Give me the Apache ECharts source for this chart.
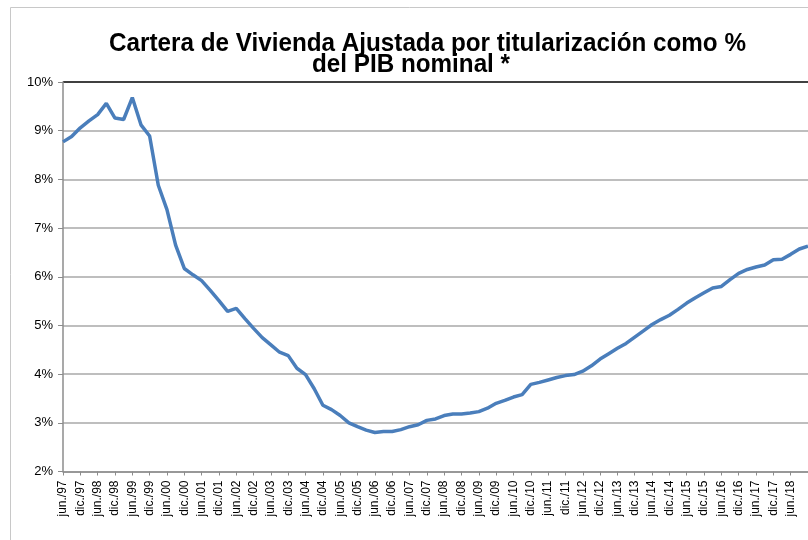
<!DOCTYPE html>
<html>
<head>
<meta charset="utf-8">
<script src="https://cdn.jsdelivr.net/npm/echarts@6/dist/echarts.min.js"></script>
<style>
  html, body { margin: 0; padding: 0; background: #ffffff; }
  #chart { width: 808px; height: 540px; }
</style>
</head>
<body>
<div id="chart"></div>
<script>
// Quarterly series, jun./97 to dic./18
const months = ['mar.', 'jun.', 'sep.', 'dic.'];
const firstYear = 1997;
const firstQuarter = 1; // jun.

// Housing loan portfolio (adjusted for securitization) as % of nominal GDP
const carteraPIB = [
  8.77, 8.88, 9.06, 9.20, 9.33, 9.56, 9.26, 9.23, 9.68, 9.12,
  8.89, 7.88, 7.38, 6.65, 6.17, 6.04, 5.92, 5.72, 5.51, 5.29,
  5.35, 5.14, 4.94, 4.75, 4.60, 4.45, 4.38, 4.12, 3.99, 3.70,
  3.36, 3.27, 3.15, 3.00, 2.92, 2.85, 2.80, 2.82, 2.82, 2.86,
  2.92, 2.96, 3.05, 3.08, 3.15, 3.18, 3.18, 3.20, 3.23, 3.30,
  3.40, 3.46, 3.53, 3.58, 3.79, 3.83, 3.88, 3.93, 3.97, 3.99,
  4.06, 4.17, 4.31, 4.42, 4.53, 4.63, 4.76, 4.89, 5.02, 5.12,
  5.21, 5.33, 5.46, 5.57, 5.67, 5.77, 5.80, 5.94, 6.07, 6.15,
  6.20, 6.24, 6.35, 6.36, 6.46, 6.57, 6.63
];

// Category labels such as "jun./97", "sep./97", "dic./97", ...
const quarterLabels = carteraPIB.map((_, i) => {
  const q = firstQuarter + i;
  const year = firstYear + Math.floor(q / 4);
  return months[q % 4] + '/' + String(year % 100).padStart(2, '0');
});

const yTicks = { min: 2, max: 10, step: 1 };

const titleLines = ['Cartera de Vivienda Ajustada por titularización como %', 'del PIB nominal *'];

const lastIndex = quarterLabels.length - 1;
const showEverySemester = (i) => i % 2 === 0 && i < lastIndex;

const titleFont = 'bold 25px "Liberation Sans", Arial, sans-serif';

const chart = echarts.init(document.getElementById('chart'), null, { renderer: 'canvas' });

chart.setOption({
  animation: false,
  backgroundColor: '#ffffff',
  textStyle: { fontFamily: 'Liberation Sans, Arial, sans-serif' },
  graphic: [
    {
      type: 'rect',
      left: 8, top: 5,
      shape: { width: 900, height: 600 },
      style: { fill: 'none', stroke: '#c8c8c8', lineWidth: 1 },
      silent: true
    },
    {
      type: 'text',
      x: 427.5, y: 32,
      scaleX: 0.97,
      style: { text: titleLines[0], font: titleFont, fill: '#000000', align: 'center', verticalAlign: 'top', lineHeight: 25 },
      silent: true
    },
    {
      type: 'text',
      x: 411, y: 53,
      scaleX: 0.97,
      style: { text: titleLines[1], font: titleFont, fill: '#000000', align: 'center', verticalAlign: 'top', lineHeight: 25 },
      silent: true
    }
  ],
  grid: { left: 63, right: 0, top: 82, bottom: 68.5, containLabel: false },
  xAxis: {
    type: 'category',
    data: quarterLabels,
    boundaryGap: false,
    axisLine: { show: true, lineStyle: { color: '#8c8c8c', width: 1.5 } },
    axisTick: { show: true, interval: showEverySemester, length: 4, lineStyle: { color: '#8c8c8c', width: 1 } },
    axisLabel: {
      interval: showEverySemester,
      rotate: 90,
      margin: 9,
      color: '#000000',
      fontSize: 12,
      fontFamily: 'Liberation Sans, Arial, sans-serif'
    },
    splitLine: { show: false }
  },
  yAxis: {
    type: 'value',
    min: yTicks.min,
    max: yTicks.max,
    interval: yTicks.step,
    axisLine: { show: true, lineStyle: { color: '#8c8c8c', width: 1.5 } },
    axisTick: { show: true, length: 5, lineStyle: { color: '#8c8c8c', width: 1 } },
    axisLabel: {
      formatter: '{value}%',
      margin: 10,
      color: '#000000',
      fontSize: 13,
      fontFamily: 'Liberation Sans, Arial, sans-serif'
    },
    splitLine: {
      show: true,
      lineStyle: {
        color: ['#a8a8a8', '#a8a8a8', '#a8a8a8', '#a8a8a8', '#a8a8a8', '#a8a8a8', '#a8a8a8', '#a8a8a8', '#000000'],
        width: 1.5
      }
    }
  },
  series: [
    {
      type: 'line',
      data: carteraPIB,
      symbol: 'none',
      smooth: false,
      lineStyle: { color: '#4a7ebb', width: 3.5 },
      z: 3
    }
  ]
});
</script>
</body>
</html>
